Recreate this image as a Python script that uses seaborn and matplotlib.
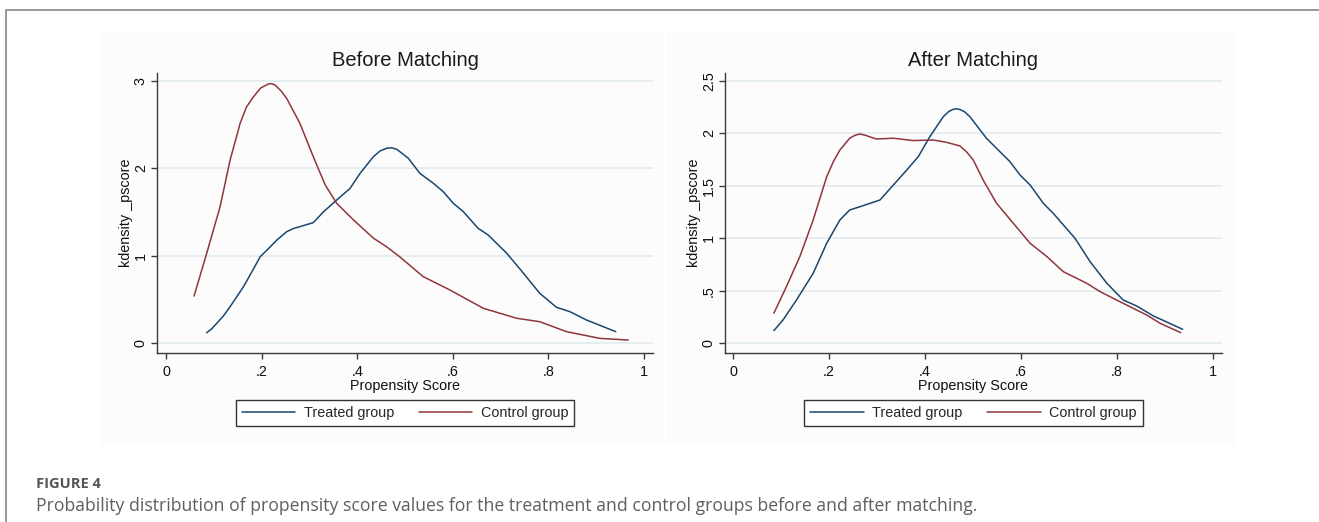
import matplotlib
matplotlib.use("Agg")
import matplotlib.pyplot as plt
import seaborn as sns
import pandas as pd
from matplotlib.patches import Rectangle
from matplotlib.lines import Line2D

W, H = 1319, 522

# values
before_treated_x = [0.085, 0.095, 0.106, 0.12, 0.134, 0.162, 0.18, 0.197, 0.216, 0.232, 0.2525, 0.266, 0.280,
                    0.308, 0.329, 0.357, 0.385, 0.406, 0.434, 0.448, 0.462, 0.472, 0.483, 0.4895, 0.507,
                    0.531, 0.559, 0.580, 0.601, 0.622, 0.653, 0.674, 0.713, 0.748, 0.782, 0.817, 0.845,
                    0.880, 0.941]
before_treated_y = [0.118, 0.16, 0.225, 0.31, 0.416, 0.645, 0.82, 0.988, 1.09, 1.18, 1.275, 1.31, 1.332,
                    1.378, 1.50, 1.637, 1.77, 1.943, 2.134, 2.20, 2.23, 2.235, 2.218, 2.19, 2.115,
                    1.943, 1.83, 1.733, 1.60, 1.504, 1.313, 1.237, 1.027, 0.798, 0.569, 0.409, 0.359,
                    0.263, 0.13]
before_control_x = [0.0586, 0.085, 0.113, 0.134, 0.155, 0.168, 0.183, 0.198, 0.214, 0.221, 0.228, 0.240,
                    0.2525, 0.280, 0.308, 0.333, 0.357, 0.392, 0.434, 0.462, 0.4895, 0.538, 0.594, 0.664,
                    0.734, 0.782, 0.838, 0.908, 0.967]
before_control_y = [0.538, 1.027, 1.56, 2.095, 2.516, 2.70, 2.82, 2.92, 2.966, 2.97, 2.954, 2.89,
                    2.80, 2.516, 2.134, 1.81, 1.60, 1.41, 1.20, 1.10, 0.985, 0.76, 0.607, 0.397,
                    0.283, 0.244, 0.13, 0.053, 0.034]

after_treated_x = [0.0849, 0.104, 0.132, 0.1668, 0.195, 0.2225, 0.243, 0.271, 0.306, 0.334, 0.362, 0.386,
                   0.410, 0.438, 0.449, 0.459, 0.466, 0.473, 0.482, 0.4935, 0.528, 0.549, 0.577, 0.598,
                   0.619, 0.6465, 0.667, 0.7125, 0.744, 0.779, 0.813, 0.841, 0.876, 0.937]
after_treated_y = [0.12, 0.222, 0.412, 0.666, 0.952, 1.174, 1.269, 1.31, 1.364, 1.507, 1.65, 1.777,
                   1.967, 2.157, 2.205, 2.228, 2.232, 2.225, 2.205, 2.157, 1.952, 1.856, 1.729, 1.602,
                   1.507, 1.333, 1.238, 1.0, 0.777, 0.571, 0.412, 0.355, 0.26, 0.133]
after_control_x = [0.0849, 0.111, 0.139, 0.1668, 0.195, 0.209, 0.2225, 0.243, 0.254, 0.264, 0.278, 0.288,
                   0.299, 0.334, 0.375, 0.417, 0.445, 0.473, 0.487, 0.5005, 0.521, 0.549, 0.584, 0.619,
                   0.654, 0.688, 0.737, 0.765, 0.806, 0.862, 0.890, 0.933]
after_control_y = [0.286, 0.539, 0.825, 1.174, 1.586, 1.73, 1.84, 1.952, 1.98, 1.993, 1.977, 1.96,
                   1.945, 1.952, 1.93, 1.935, 1.913, 1.878, 1.82, 1.745, 1.555, 1.333, 1.142, 0.952,
                   0.825, 0.682, 0.571, 0.491, 0.396, 0.269, 0.19, 0.101]

x_ticks = [0, 0.2, 0.4, 0.6, 0.8, 1]
x_tick_labels = ["0", ".2", ".4", ".6", ".8", "1"]
before_y_ticks = [0, 1, 2, 3]
before_y_tick_labels = ["0", "1", "2", "3"]
after_y_ticks = [0, 0.5, 1, 1.5, 2, 2.5]
after_y_tick_labels = ["0", ".5", "1", "1.5", "2", "2.5"]

group_names = ["Treated group", "Control group"]
group_colors = {"Treated group": "#1a476f", "Control group": "#90353b"}

sns.set_style("white")
plt.rcParams["font.family"] = ["Liberation Sans", "DejaVu Sans"]


def to_frame(tx, ty, cx, cy):
    treated = pd.DataFrame({"score": tx, "density": ty, "group": group_names[0]})
    control = pd.DataFrame({"score": cx, "density": cy, "group": group_names[1]})
    return pd.concat([treated, control], ignore_index=True)


def fig_box(x0, y0, x1, y1):
    # pixel box (top-left origin) -> figure fraction rect
    return [x0 / W, 1 - y1 / H, (x1 - x0) / W, (y1 - y0) / H]


fig = plt.figure(figsize=(W / 100, H / 100), dpi=100)

# outer frame (top and left edge) and the two light panel backgrounds
fig.add_artist(Line2D([6 / W, 6 / W, 1], [0, 1 - 9.5 / H, 1 - 9.5 / H],
                      transform=fig.transFigure, color="#85858f", lw=1.2))
for px0, px1 in [(101, 664), (666, 1236)]:
    fig.add_artist(Rectangle((px0 / W, 1 - 445 / H), (px1 - px0) / W, (445 - 32) / H,
                             transform=fig.transFigure, facecolor="#fcfcfc", edgecolor="none", zorder=0))

panels = [
    dict(box=(157, 72.7, 653, 352.7), title="Before Matching",
         data=to_frame(before_treated_x, before_treated_y, before_control_x, before_control_y),
         yticks=before_y_ticks, ylabels=before_y_tick_labels, ylim=(-0.111, 3.095), xlim=(-0.019, 1.019)),
    dict(box=(725, 72.7, 1222, 352.7), title="After Matching",
         data=to_frame(after_treated_x, after_treated_y, after_control_x, after_control_y),
         yticks=after_y_ticks, ylabels=after_y_tick_labels, ylim=(-0.09, 2.576), xlim=(-0.017, 1.019)),
]

for p in panels:
    ax = fig.add_axes(fig_box(*p["box"]))
    ax.set_facecolor("none")
    sns.lineplot(data=p["data"], x="score", y="density", hue="group", palette=group_colors,
                 sort=False, estimator=None, linewidth=1.1, ax=ax, legend=False)
    ax.set_xlim(*p["xlim"])
    ax.set_ylim(*p["ylim"])
    ax.set_xticks(x_ticks)
    ax.set_xticklabels(x_tick_labels)
    ax.set_yticks(p["yticks"])
    ax.set_yticklabels(p["ylabels"], rotation=90, va="center")
    ax.yaxis.grid(True, color="#e4ecee", lw=1.3)
    ax.xaxis.grid(False)
    ax.set_axisbelow(True)
    for side in ["top", "right"]:
        ax.spines[side].set_visible(False)
    for side in ["left", "bottom"]:
        ax.spines[side].set_color("#3a3a3a")
        ax.spines[side].set_linewidth(1.0)
    ax.tick_params(axis="both", direction="out", length=4, width=1, color="#3a3a3a",
                   labelsize=10.4, labelcolor="#111111", left=True, bottom=True)
    ax.tick_params(axis="x", pad=4.5)
    ax.tick_params(axis="y", pad=2.5)
    ax.set_title(p["title"], fontsize=14.5, color="#1a1a1a", pad=4.6)
    ax.set_xlabel("Propensity Score", fontsize=10.4, color="#111111", labelpad=0)
    ax.set_ylabel("kdensity _pscore", fontsize=10.4, color="#111111", labelpad=1)

    handles = [Line2D([], [], color=group_colors[g], lw=1.1) for g in group_names]
    cx = (p["box"][0] + p["box"][2]) / 2
    leg = fig.legend(handles, group_names, loc="upper center", bbox_to_anchor=(cx / W, 1 - 400 / H),
                     ncol=2, frameon=True, fancybox=False, edgecolor="#333333", facecolor="white",
                     handlelength=3.7, handletextpad=0.6, columnspacing=1.7, borderpad=0.4,
                     borderaxespad=0, fontsize=10.4, framealpha=1)
    leg.get_frame().set_linewidth(1.0)

fig.text(36 / W, 1 - 484 / H, "FIGURE 4", fontsize=10.5, fontweight="bold", color="#555555",
         family=["Open Sans", "DejaVu Sans"], va="center", ha="left")
fig.text(36 / W, 1 - 506 / H,
         "Probability distribution of propensity score values for the treatment and control groups "
         "before and after matching.",
         fontsize=12.7, color="#5f5f5f", family=["Open Sans", "DejaVu Sans"], va="center", ha="left")

fig.savefig("out.png", dpi=100, facecolor="white")
